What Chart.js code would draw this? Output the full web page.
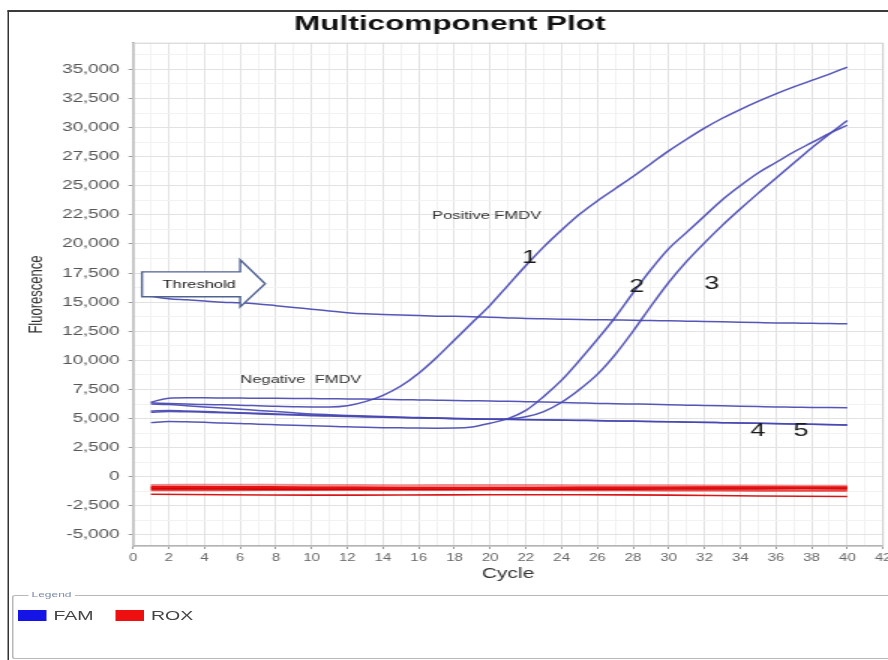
<!DOCTYPE html>
<html>
<head>
<meta charset="utf-8">
<title>Multicomponent Plot</title>
<script src="https://cdn.jsdelivr.net/npm/chart.js@4.4.1/dist/chart.umd.min.js"></script>
<style>
  html, body { margin: 0; padding: 0; background: #fff; }
  body { width: 888px; height: 660px; overflow: hidden; position: relative; }
  /* the source screenshot is stretched ~1.5x horizontally, so the whole page is too */
  #page { position: absolute; left: 0; top: 0; width: 600px; height: 660px; transform: scaleX(1.5); transform-origin: 0 0; }
  #frame { position: absolute; left: 4.7px; top: 10px; width: 700px; height: 700px; border-left: 1px solid #333; border-top: 2px solid #3a3a3a; }
  #chart { position: absolute; left: 11px; top: 0; }
  #legendBox { position: absolute; left: 8px; top: 595px; width: 700px; height: 62px; border: 1px solid #b8b8b8; border-radius: 2px; font-family: "Liberation Sans", Arial, sans-serif; }
  #legendBox .caption { position: absolute; left: 10px; top: -6px; font-size: 8px; color: #7a8aa8; background: #fff; padding: 0 2px; }
  #legendBox .item { position: absolute; top: 13px; font-size: 13px; color: #444; line-height: 13px; }
  #legendBox .swatch { display: inline-block; width: 18.7px; height: 11px; vertical-align: -1px; margin-right: 5px; }
</style>
</head>
<body>
<div id="page">
  <div id="frame"></div>
  <canvas id="chart" width="589" height="590"></canvas>
  <div id="legendBox">
    <span class="caption">Legend</span>
    <span class="item" style="left:3px"><span class="swatch" style="background:#1414e6"></span>FAM</span>
    <span class="item" style="left:68px"><span class="swatch" style="background:#ee1010"></span>ROX</span>
  </div>
</div>
<script>
// values
const cycles = [1, 2, 3, 4, 5, 6, 7, 8, 9, 10, 11, 12, 13, 14, 15, 16, 17, 18, 19, 20,
  21, 22, 23, 24, 25, 26, 27, 28, 29, 30, 31, 32, 33, 34, 35, 36, 37, 38, 39, 40];

const famThreshold = [15500, 15300, 15200, 15100, 15000, 14950, 14850, 14700, 14550, 14400,
  14250, 14100, 14000, 13950, 13900, 13850, 13800, 13780, 13750, 13700,
  13650, 13600, 13570, 13540, 13510, 13490, 13470, 13450, 13420, 13400,
  13370, 13340, 13310, 13280, 13250, 13220, 13200, 13180, 13160, 13140];

const famNegativeTop = [6400, 6750, 6780, 6780, 6770, 6760, 6750, 6740, 6730, 6720,
  6700, 6690, 6670, 6650, 6620, 6600, 6580, 6560, 6530, 6500,
  6480, 6450, 6420, 6380, 6340, 6300, 6280, 6250, 6220, 6180,
  6150, 6120, 6090, 6060, 6030, 6000, 5980, 5950, 5940, 5930];

const famPositive1 = [6350, 6300, 6250, 6200, 6180, 6150, 6100, 6050, 6020, 6000,
  6000, 6100, 6450, 7000, 7800, 8900, 10250, 11750, 13250, 14750,
  16450, 18150, 19750, 21200, 22550, 23700, 24750, 25800, 26900, 28000,
  29000, 29950, 30800, 31550, 32250, 32900, 33500, 34050, 34600, 35200];

const famPositive2 = [4650, 4750, 4720, 4680, 4620, 4580, 4520, 4470, 4420, 4380,
  4330, 4290, 4250, 4220, 4200, 4180, 4170, 4180, 4280, 4600,
  5000, 5700, 6900, 8300, 10000, 11800, 13700, 15800, 17800, 19600,
  21000, 22400, 23800, 25000, 26100, 27000, 27900, 28700, 29500, 30200];

const famPositive3 = [6250, 6200, 6100, 6000, 5900, 5800, 5700, 5600, 5500, 5400,
  5330, 5270, 5220, 5170, 5120, 5080, 5040, 5000, 4970, 4950,
  4980, 5150, 5600, 6400, 7500, 8800, 10500, 12500, 14650, 16700,
  18500, 20100, 21600, 23000, 24350, 25650, 26950, 28250, 29450, 30600];

const famNegative4 = [5650, 5700, 5650, 5600, 5550, 5500, 5450, 5400, 5350, 5300,
  5260, 5220, 5180, 5140, 5100, 5070, 5040, 5010, 4980, 4950,
  4930, 4910, 4890, 4870, 4850, 4830, 4800, 4780, 4750, 4730,
  4700, 4680, 4650, 4620, 4600, 4570, 4540, 4510, 4480, 4450];

const famNegative5 = [5550, 5600, 5580, 5540, 5500, 5450, 5400, 5350, 5300, 5250,
  5210, 5170, 5140, 5110, 5080, 5050, 5020, 4990, 4960, 4940,
  4920, 4900, 4880, 4860, 4840, 4810, 4790, 4760, 4740, 4720,
  4690, 4670, 4640, 4610, 4590, 4560, 4530, 4500, 4470, 4440];

const roxCycles = [1, 5, 10, 15, 20, 25, 30, 35, 40];
const rox1 = [-700, -680, -700, -720, -700, -720, -740, -760, -780];
const rox2 = [-880, -900, -920, -940, -950, -930, -920, -900, -900];
const rox3 = [-1000, -1020, -1040, -1050, -1060, -1040, -1020, -1000, -1000];
const rox4 = [-1150, -1150, -1130, -1120, -1100, -1150, -1180, -1200, -1200];
const rox5 = [-1500, -1550, -1580, -1570, -1550, -1550, -1580, -1650, -1700];

const fluorescenceTicks = [-5000, -2500, 0, 2500, 5000, 7500, 10000, 12500, 15000,
  17500, 20000, 22500, 25000, 27500, 30000, 32500, 35000];

const FONT = '"Liberation Sans", Arial, sans-serif';
const FAM_LINE = "rgba(72, 72, 178, 0.92)";

function toPoints(xs, ys) {
  return xs.map((x, i) => ({ x, y: ys[i] }));
}

const famSets = [famThreshold, famNegativeTop, famPositive1, famPositive2, famPositive3, famNegative4, famNegative5];
const roxSets = [
  { values: rox1, color: "rgba(235, 90, 90, 0.7)", width: 2 },
  { values: rox2, color: "#e41212", width: 2.5 },
  { values: rox3, color: "#d80000", width: 2.5 },
  { values: rox4, color: "rgba(230, 40, 40, 0.85)", width: 2 },
  { values: rox5, color: "#d81818", width: 1.6 },
];

const datasets = [
  ...roxSets.map((s, i) => ({
    label: `ROX ${i + 1}`,
    data: toPoints(roxCycles, s.values),
    borderColor: s.color,
    borderWidth: s.width,
    tension: 0.3,
  })),
  ...famSets.map((values, i) => ({
    label: `FAM ${i + 1}`,
    data: toPoints(cycles, values),
    borderColor: FAM_LINE,
    borderWidth: 1.5,
    cubicInterpolationMode: "monotone",
  })),
];

// text notes written on the plot, placed in data units
const notes = [
  { text: "Positive FMDV", cycle: 19.8, value: 22400, size: 11 },
  { text: "1", cycle: 22.2, value: 18800, size: 18 },
  { text: "2", cycle: 28.2, value: 16300, size: 18 },
  { text: "3", cycle: 32.4, value: 16550, size: 18 },
  { text: "Negative  FMDV", cycle: 9.4, value: 8330, size: 11 },
  { text: "4", cycle: 35.0, value: 3950, size: 18 },
  { text: "5", cycle: 37.4, value: 3950, size: 18 },
];

const thresholdArrow = { x0: 0.5, x1: 6.0, tip: 7.4, top: 17600, bottom: 15460, headTop: 18640, headBottom: 14600, mid: 16580 };

const plotDecor = {
  id: "plotDecor",
  beforeDatasetsDraw(chart) {
    const { ctx, chartArea: a } = chart;
    ctx.save();
    ctx.strokeStyle = "#cfcfcf";
    ctx.lineWidth = 1;
    ctx.strokeRect(a.left, a.top, a.right - a.left, a.bottom - a.top);
    ctx.restore();
  },
  afterDatasetsDraw(chart) {
    const { ctx, scales: { x, y } } = chart;
    const t = thresholdArrow;
    ctx.save();
    ctx.beginPath();
    ctx.moveTo(x.getPixelForValue(t.x0), y.getPixelForValue(t.top));
    ctx.lineTo(x.getPixelForValue(t.x1), y.getPixelForValue(t.top));
    ctx.lineTo(x.getPixelForValue(t.x1), y.getPixelForValue(t.headTop));
    ctx.lineTo(x.getPixelForValue(t.tip), y.getPixelForValue(t.mid));
    ctx.lineTo(x.getPixelForValue(t.x1), y.getPixelForValue(t.headBottom));
    ctx.lineTo(x.getPixelForValue(t.x1), y.getPixelForValue(t.bottom));
    ctx.lineTo(x.getPixelForValue(t.x0), y.getPixelForValue(t.bottom));
    ctx.closePath();
    ctx.fillStyle = "#fff";
    ctx.fill();
    ctx.strokeStyle = "#4f6290";
    ctx.lineWidth = 1.4;
    ctx.stroke();

    ctx.fillStyle = "#222";
    ctx.textAlign = "center";
    ctx.textBaseline = "middle";
    ctx.font = `11px ${FONT}`;
    ctx.fillText("Threshold", x.getPixelForValue(3.7), y.getPixelForValue(16500));

    notes.forEach((n) => {
      ctx.font = `${n.size}px ${FONT}`;
      ctx.fillStyle = n.size > 12 ? "#1a1a1a" : "#333";
      ctx.fillText(n.text, x.getPixelForValue(n.cycle), y.getPixelForValue(n.value));
    });
    ctx.restore();
  },
};

const isMajorY = (v) => fluorescenceTicks.includes(v);

new Chart(document.getElementById("chart"), {
  type: "line",
  data: { datasets },
  plugins: [plotDecor],
  options: {
    responsive: false,
    animation: false,
    layout: { padding: { left: 0, right: 11.3, top: 0, bottom: 0 } },
    elements: { point: { radius: 0 } },
    plugins: {
      legend: { display: false },
      tooltip: { enabled: false },
      title: {
        display: true,
        text: "Multicomponent Plot",
        color: "#111",
        font: { family: FONT, size: 21, weight: "bold" },
        padding: { top: 12, bottom: 6 },
      },
    },
    scales: {
      x: {
        type: "linear",
        min: 0,
        max: 42,
        afterFit: (s) => { s.height = 44; },
        border: { color: "#9a9a9a", width: 1.5 },
        grid: {
          color: (c) => (c.tick && c.tick.value % 2 === 0 ? "#e2e2e2" : "#f2f2f2"),
          tickColor: (c) => (c.tick && c.tick.value % 2 === 0 ? "#999" : "rgba(0,0,0,0)"),
          tickLength: 3,
        },
        ticks: {
          stepSize: 1,
          autoSkip: false,
          maxRotation: 0,
          padding: 3,
          color: "#666",
          font: { family: FONT, size: 10 },
          callback: (v) => (v % 2 === 0 ? String(v) : ""),
        },
        title: {
          display: true,
          text: "Cycle",
          color: "#333",
          font: { family: FONT, size: 14 },
          padding: { top: 0, bottom: 7.6 },
        },
      },
      y: {
        type: "linear",
        min: -5950,
        max: 37250,
        afterFit: (s) => { s.width = 77.7; },
        afterBuildTicks: (s) => {
          const values = [];
          fluorescenceTicks.forEach((v) => { values.push(v, v + 1250); });
          s.ticks = values.map((value) => ({ value }));
        },
        border: { color: "#9a9a9a", width: 1.5 },
        grid: {
          color: (c) => (c.tick && isMajorY(c.tick.value) ? "#e2e2e2" : "#f2f2f2"),
          tickColor: (c) => (c.tick && isMajorY(c.tick.value) ? "#999" : "rgba(0,0,0,0)"),
          tickLength: 3,
        },
        ticks: {
          autoSkip: false,
          padding: 6,
          color: "#555",
          font: { family: FONT, size: 12.5 },
          callback: (v) => (isMajorY(v) ? v.toLocaleString("en-US") : ""),
        },
        title: {
          display: true,
          text: "Fluorescence",
          color: "#333",
          font: { family: FONT, size: 13 },
          padding: { top: 6, bottom: 0 },
        },
      },
    },
  },
});
</script>
</body>
</html>
